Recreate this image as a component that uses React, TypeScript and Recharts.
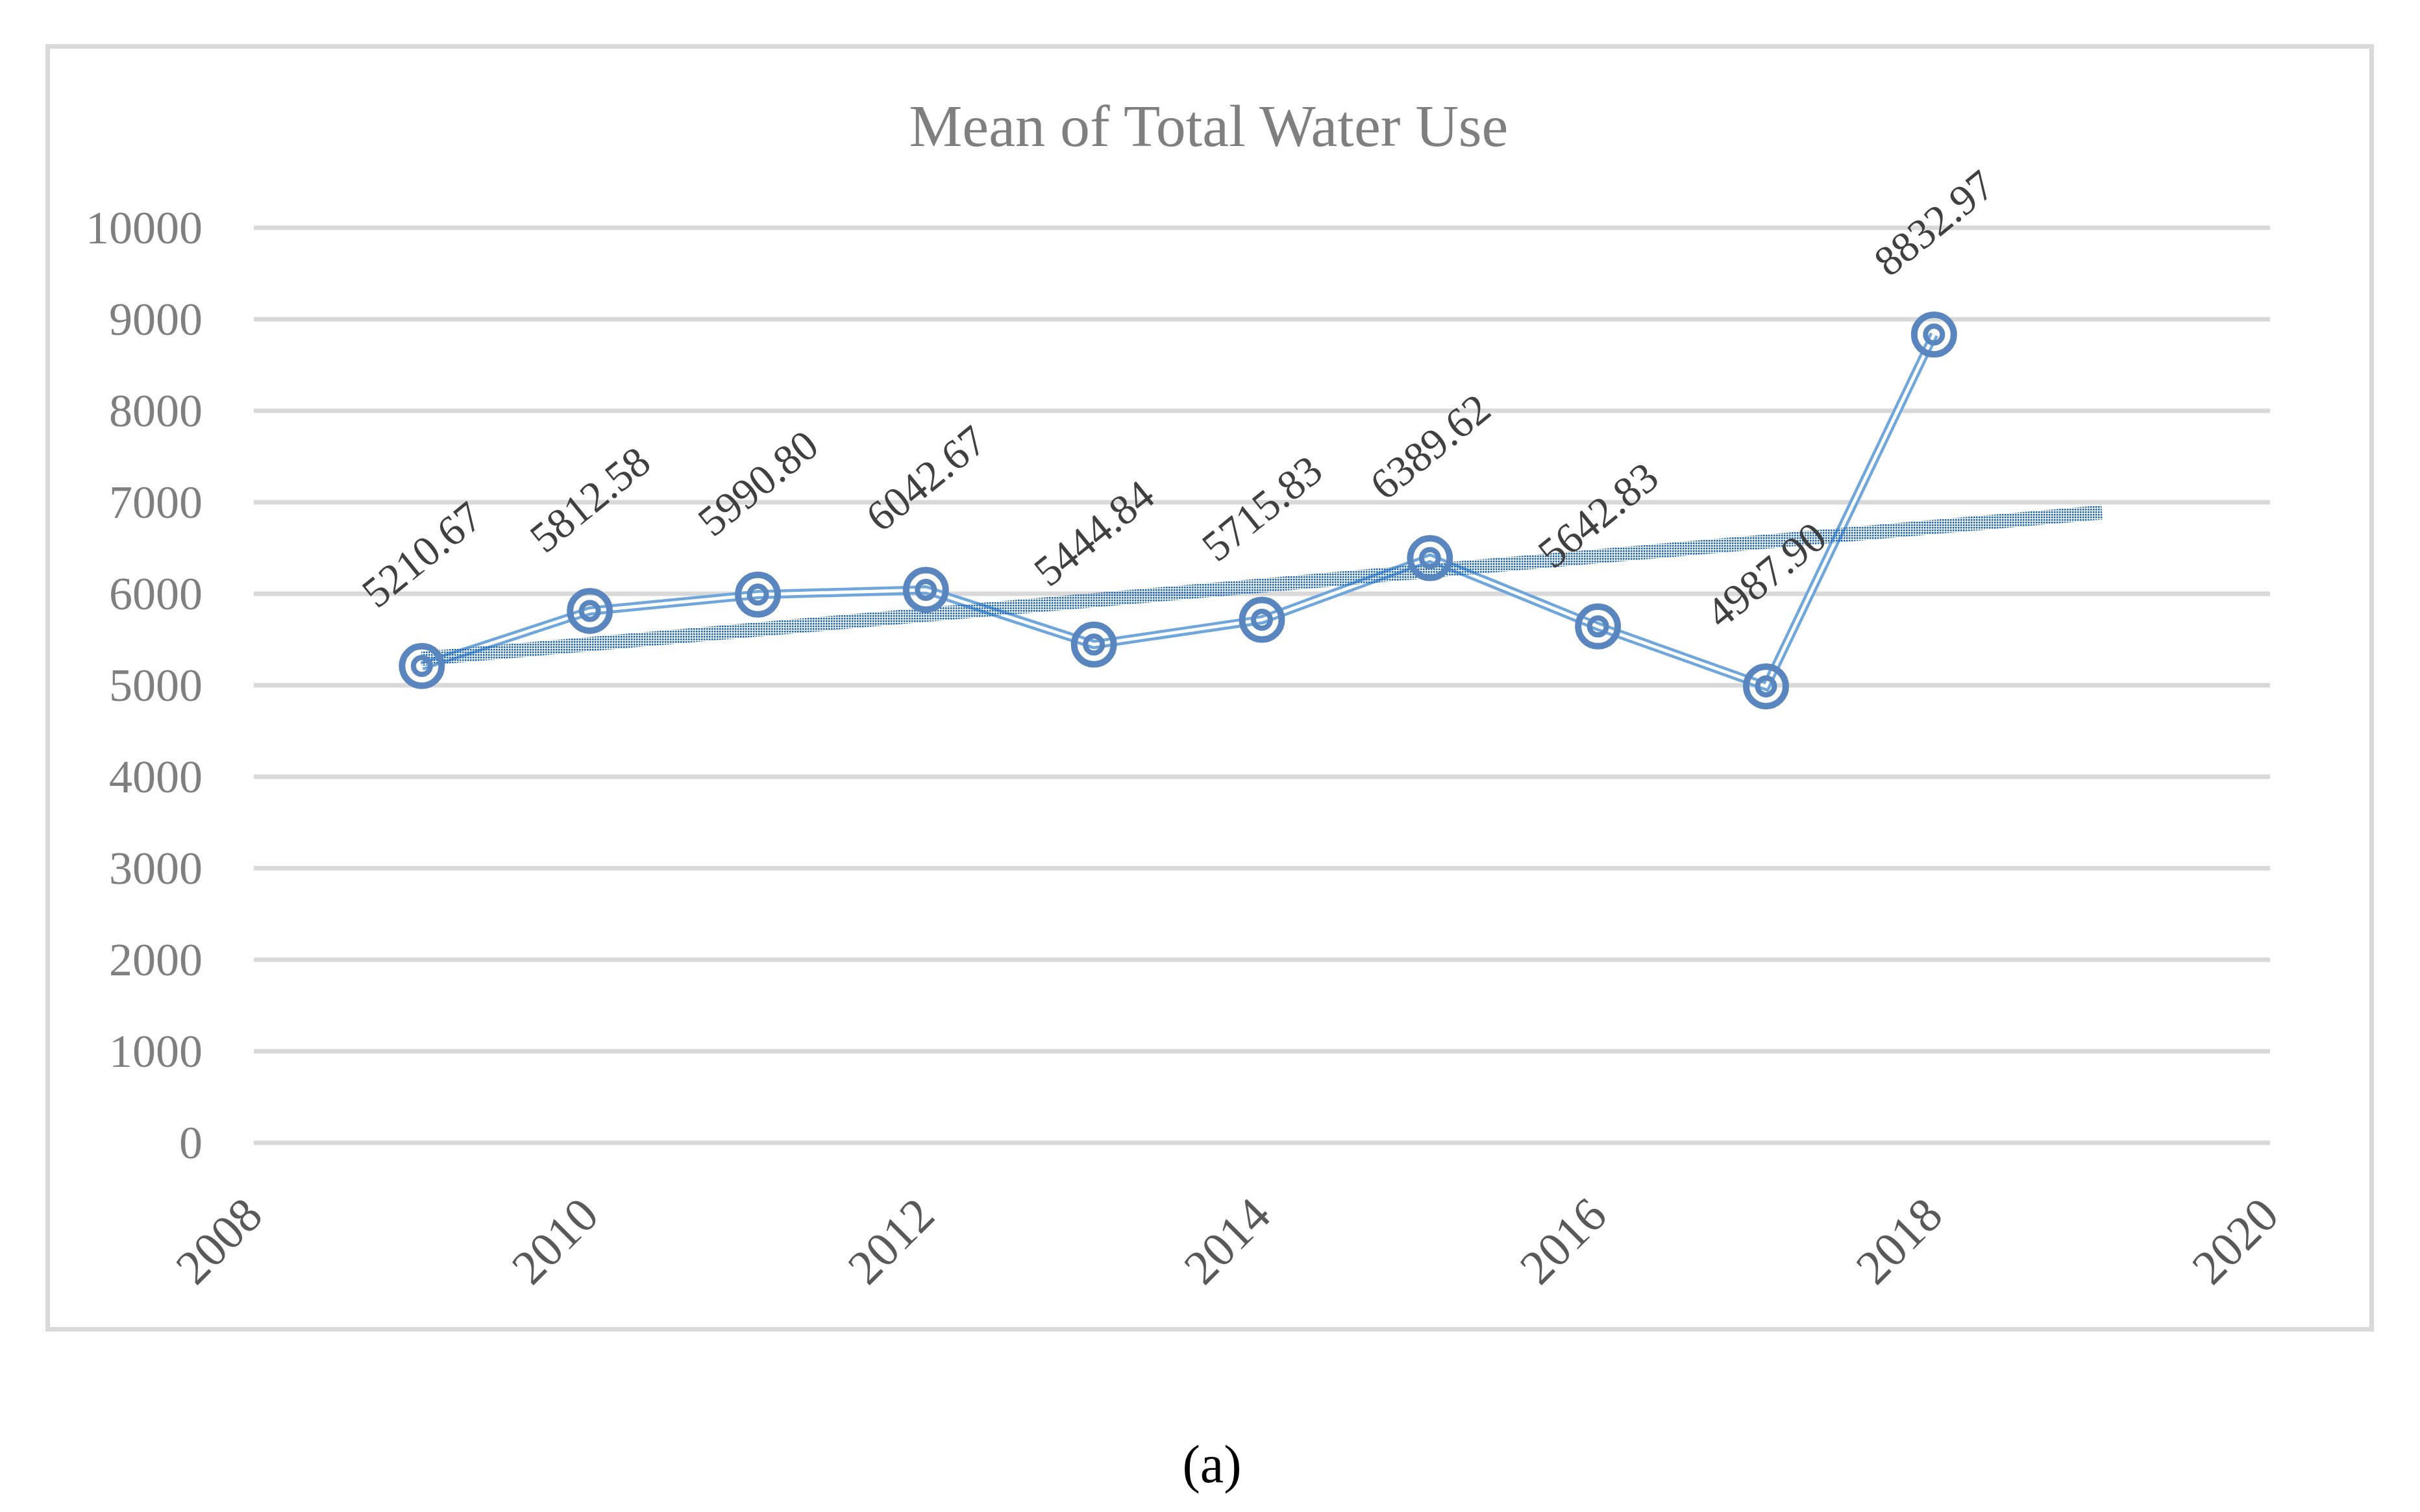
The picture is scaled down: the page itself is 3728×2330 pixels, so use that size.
import { LineChart, Line, XAxis, YAxis, CartesianGrid, LabelList } from 'recharts';

// values
const years = [2009, 2010, 2011, 2012, 2013, 2014, 2015, 2016, 2017, 2018];
const meanWaterUse = [5210.67, 5812.58, 5990.8, 6042.67, 5444.84, 5715.83, 6389.62, 5642.83, 4987.9, 8832.97];
// linear trendline end points, as drawn in the picture
const trendYears = [2009, 2019];
const trendValues = [5290, 6890];
const xTicks = [2008, 2010, 2012, 2014, 2016, 2018, 2020];
const yTicks = [0, 1000, 2000, 3000, 4000, 5000, 6000, 7000, 8000, 9000, 10000];

const data = years.map((year, i) => ({ year, value: meanWaterUse[i] }));
const trendData = trendYears.map((year, i) => ({ year, trend: trendValues[i] }));

const FONT = '"Liberation Serif", "Times New Roman", serif';
const MARKER = '#5a86bf';

function XTick({ x, y, payload }: any) {
  const ax = x + 17;
  const ay = y + 116;
  return (
    <text
      x={ax}
      y={ay}
      textAnchor="end"
      fontFamily={FONT}
      fontSize={75}
      fill="#595959"
      transform={`rotate(-45, ${ax}, ${ay})`}
    >
      {payload.value}
    </text>
  );
}

function YTick({ x, y, payload }: any) {
  return (
    <text x={x - 79} y={y} textAnchor="end" dominantBaseline="central" fontFamily={FONT} fontSize={72} fill="#7f7f7f">
      {payload.value}
    </text>
  );
}

function Marker({ cx, cy }: any) {
  if (cx == null || cy == null) return null;
  return (
    <g>
      <circle cx={cx} cy={cy} r={30.5} fill="none" stroke={MARKER} strokeWidth={10} />
      <circle cx={cx} cy={cy} r={13} fill="none" stroke={MARKER} strokeWidth={8} />
    </g>
  );
}

function ValueLabel({ x, y, value }: any) {
  const lx = x;
  const ly = y - 172;
  return (
    <text
      x={lx}
      y={ly}
      textAnchor="middle"
      dominantBaseline="central"
      fontFamily={FONT}
      fontSize={66}
      fill="#404040"
      transform={`rotate(-39, ${lx}, ${ly})`}
    >
      {Number(value).toFixed(2)}
    </text>
  );
}

export default function App() {
  return (
    <div style={{ position: 'absolute', left: 0, top: 0, width: 3728, height: 2330, background: '#fff' }}>
      <div
        style={{
          position: 'absolute',
          left: 70,
          top: 68,
          width: 3587,
          height: 1984,
          boxSizing: 'border-box',
          border: '7px solid #d9d9d9',
        }}
      />
      <div
        style={{
          position: 'absolute',
          left: 0,
          top: 148,
          width: 3724,
          textAlign: 'center',
          fontFamily: FONT,
          fontSize: 92,
          lineHeight: 1,
          color: '#7f7f7f',
          whiteSpace: 'nowrap',
        }}
      >
        Mean of Total Water Use
      </div>
      <div style={{ position: 'absolute', left: 0, top: 0 }}>
        <LineChart width={3728} height={2330} margin={{ top: 351, right: 231, bottom: 269, left: 91 }}>
          <defs>
            <pattern id="trendDots" width="4" height="4" patternUnits="userSpaceOnUse">
              <rect width="2.6" height="2.6" fill="#1a66b5" />
            </pattern>
          </defs>
          <CartesianGrid vertical={false} stroke="#d9d9d9" strokeWidth={7} />
          <XAxis
            dataKey="year"
            type="number"
            domain={[2008, 2020]}
            ticks={xTicks}
            height={300}
            tickSize={0}
            tickMargin={0}
            axisLine={false}
            tickLine={false}
            tick={(p: any) => <XTick {...p} />}
            interval={0}
          />
          <YAxis
            type="number"
            domain={[0, 10000]}
            ticks={yTicks}
            width={300}
            tickSize={0}
            tickMargin={0}
            axisLine={false}
            tickLine={false}
            tick={(p: any) => <YTick {...p} />}
            interval={0}
          />
          <Line
            data={data}
            dataKey="value"
            stroke="#6fa6dc"
            strokeWidth={14}
            dot={false}
            activeDot={false}
            isAnimationActive={false}
          />
          <Line
            data={data}
            dataKey="value"
            stroke="#ffffff"
            strokeWidth={5}
            dot={(p: any) => <Marker key={`dot-${p.index}`} {...p} />}
            activeDot={false}
            isAnimationActive={false}
          >
            <LabelList dataKey="value" content={(p: any) => <ValueLabel {...p} />} />
          </Line>
          <Line
            data={trendData}
            dataKey="trend"
            stroke="url(#trendDots)"
            strokeWidth={22}
            dot={false}
            activeDot={false}
            isAnimationActive={false}
          />
        </LineChart>
      </div>
      <div
        style={{
          position: 'absolute',
          left: 1867 - 200,
          top: 2216,
          width: 400,
          textAlign: 'center',
          fontFamily: FONT,
          fontSize: 82,
          lineHeight: 1,
          color: '#000',
        }}
      >
        (a)
      </div>
    </div>
  );
}
